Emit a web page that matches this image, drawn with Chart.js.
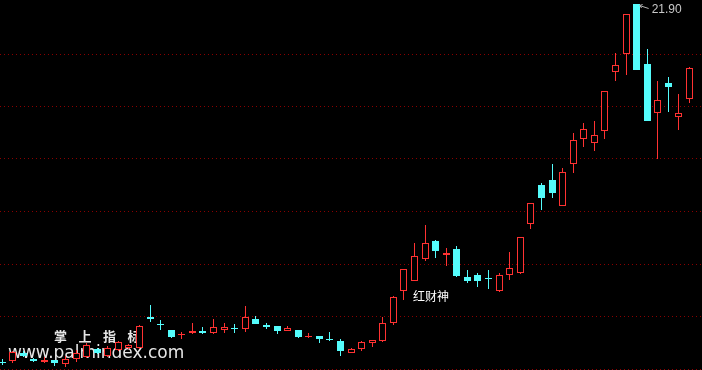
<!DOCTYPE html>
<html>
<head>
<meta charset="utf-8">
<title>红财神</title>
<script src="https://cdn.jsdelivr.net/npm/chart.js@4.4.1/dist/chart.umd.min.js"></script>
<style>
  html, body { margin: 0; padding: 0; background: #000; overflow: hidden; }
  #wrap { width: 702px; height: 370px; background: #000; }
</style>
</head>
<body>
<div id="wrap"><canvas id="kline" width="702" height="370"></canvas></div>
<script>
// daily bars, oldest first
var opens = [4.02, 4.05, 4.45, 4.17, 3.99, 4.09, 3.90, 4.15, 4.27, 4.65,
  4.30, 4.60, 4.70, 4.68, 6.24, 5.92, 5.60, 5.33, 5.44, 5.57,
  5.44, 5.60, 5.70, 5.67, 6.15, 5.87, 5.80, 5.57, 5.60, 5.24,
  5.30, 5.15, 5.05, 4.47, 4.65, 4.94, 5.07, 5.94, 7.57, 8.07,
  9.17, 10.05, 9.37, 9.65, 8.25, 8.35, 8.20, 7.57, 8.37, 8.47,
  10.92, 12.85, 13.10, 11.82, 13.89, 15.17, 14.97, 15.57, 18.48, 19.39,
  21.90, 18.90, 16.44, 17.95, 16.24, 17.14];
var highs = [4.15, 4.55, 4.55, 4.20, 4.25, 4.12, 4.30, 4.60, 4.95, 4.72,
  4.80, 5.05, 4.90, 5.85, 6.85, 6.10, 5.62, 5.52, 5.94, 5.75,
  6.15, 5.94, 5.89, 6.80, 6.30, 5.97, 5.82, 5.80, 5.62, 5.45,
  5.32, 5.52, 5.15, 4.70, 5.07, 5.12, 6.27, 7.28, 8.66, 9.97,
  10.87, 10.10, 9.69, 9.80, 8.60, 8.45, 8.60, 8.45, 9.50, 10.25,
  11.95, 12.97, 13.90, 13.70, 15.47, 15.94, 16.05, 17.56, 19.47, 21.42,
  21.90, 19.65, 18.05, 18.25, 17.40, 18.75];
var lows = [3.85, 3.95, 4.25, 4.00, 3.97, 3.80, 3.75, 4.00, 4.22, 4.40,
  4.25, 4.55, 4.65, 4.65, 6.02, 5.60, 5.20, 5.17, 5.40, 5.40,
  5.40, 5.45, 5.47, 5.52, 5.90, 5.65, 5.40, 5.55, 5.22, 5.22,
  4.95, 5.05, 4.32, 4.45, 4.55, 4.77, 5.00, 5.87, 7.10, 8.05,
  9.07, 9.22, 8.82, 8.27, 7.97, 7.77, 7.67, 7.50, 8.12, 8.40,
  10.64, 11.60, 12.22, 11.80, 13.44, 14.77, 14.57, 15.14, 18.07, 18.35,
  18.58, 16.05, 14.17, 16.52, 15.62, 16.97];
var closes = [3.98, 4.49, 4.30, 4.04, 4.10, 3.94, 4.14, 4.44, 4.85, 4.47,
  4.70, 5.00, 4.85, 5.81, 6.15, 5.85, 5.27, 5.38, 5.55, 5.47,
  5.74, 5.74, 5.66, 6.24, 5.92, 5.75, 5.57, 5.70, 5.24, 5.32,
  5.15, 5.12, 4.57, 4.65, 5.00, 5.10, 5.95, 7.24, 8.64, 9.30,
  9.94, 9.57, 9.45, 8.32, 8.07, 8.07, 8.13, 8.35, 8.69, 10.23,
  11.93, 12.22, 12.47, 13.50, 15.09, 15.65, 15.35, 17.54, 18.84, 21.40,
  18.60, 16.07, 17.10, 17.77, 16.45, 18.70];
var gridLevels = [3.65, 6.28, 8.90, 11.53, 14.15, 16.78, 19.40];
var peakLabel = '21.90';
var indicatorName = '红财神';
var brandName = '掌上指标';
var brandSite = 'www.palmindex.com';

var upColor = '#ff3232';
var downColor = '#54fcfc';
var idx = opens.map(function(v, i) { return i; });
var isUp = idx.map(function(i) { return closes[i] >= opens[i]; });
var lineColors = isUp.map(function(u) { return u ? upColor : downColor; });

// keep candle edges on whole pixels so the 1px outlines stay sharp
var snapBars = {
  id: 'snapBars',
  beforeDatasetsDraw: function(chart) {
    chart.data.datasets.forEach(function(ds, d) {
      chart.getDatasetMeta(d).data.forEach(function(el) {
        el.x = Math.floor(el.x) + 0.5;
        var top = Math.round(Math.min(el.y, el.base));
        var bot = Math.round(Math.max(el.y, el.base));
        if (bot - top < 1) bot = top + 1;
        el.y = top;
        el.base = bot;
      });
    });
  }
};

// text drawn on top of the plot (watermark under the candles, labels above)
var overlayText = {
  id: 'overlayText',
  beforeDatasetsDraw: function(chart) {
    var ctx = chart.ctx;
    ctx.save();
    ctx.fillStyle = '#e6e6e6';
    ctx.textBaseline = 'middle';
    ctx.font = 'bold 13px "Noto Sans CJK SC"';
    var chars = brandName.split('');
    chars.forEach(function(ch, k) {
      ctx.fillText(ch, 54 + k * 24.5, 336);
    });
    ctx.font = '17px "DejaVu Sans"';
    ctx.textBaseline = 'alphabetic';
    ctx.fillText(brandSite, 8, 358);
    ctx.restore();
  },
  afterDatasetsDraw: function(chart) {
    var ctx = chart.ctx;
    var xs = chart.scales.x, ys = chart.scales.y;
    ctx.save();
    ctx.fillStyle = '#ffffff';
    ctx.font = '12px "Noto Sans CJK SC"';
    ctx.textBaseline = 'middle';
    ctx.fillText(indicatorName, 413, 296);

    var top = highs.indexOf(Math.max.apply(null, highs));
    var px = xs.getPixelForValue(top);
    var py = ys.getPixelForValue(highs[top]);
    ctx.strokeStyle = '#b4b4b4';
    ctx.lineWidth = 1;
    ctx.beginPath();
    ctx.moveTo(px + 3, py + 1.5);
    ctx.lineTo(px + 12, py + 4.5);
    ctx.moveTo(px + 3, py + 1.5);
    ctx.lineTo(px + 6, py + 0.5);
    ctx.moveTo(px + 3, py + 1.5);
    ctx.lineTo(px + 5, py + 4);
    ctx.stroke();
    ctx.fillStyle = '#c8c8c8';
    ctx.font = '12px "Liberation Sans"';
    ctx.fillText(peakLabel, px + 15, py + 6);
    ctx.restore();
  }
};

new Chart(document.getElementById('kline'), {
  type: 'bar',
  data: {
    datasets: [{
      label: 'body',
      data: idx.map(function(i) { return {x: i, y: [opens[i], closes[i]]}; }),
      backgroundColor: isUp.map(function(u) { return u ? '#000000' : downColor; }),
      borderColor: lineColors,
      borderWidth: 1,
      borderSkipped: false,
      inflateAmount: 0,
      barThickness: 7,
      grouped: false,
      order: 1
    }, {
      label: 'wick',
      data: idx.map(function(i) { return {x: i, y: [lows[i], highs[i]]}; }),
      backgroundColor: lineColors,
      borderWidth: 0,
      inflateAmount: 0,
      barThickness: 1,
      grouped: false,
      order: 2
    }]
  },
  options: {
    responsive: false,
    animation: false,
    layout: { padding: 0 },
    plugins: {
      legend: { display: false },
      tooltip: { enabled: false }
    },
    scales: {
      x: {
        type: 'linear',
        display: false,
        offset: false,
        min: -0.19,
        max: 66.18
      },
      y: {
        min: 3.60,
        max: 22.10,
        ticks: { display: false },
        grid: { color: '#8a0000', drawTicks: false },
        border: { display: false, dash: [1, 3] },
        afterBuildTicks: function(scale) {
          scale.ticks = gridLevels.map(function(v) { return {value: v}; });
        }
      }
    }
  },
  plugins: [snapBars, overlayText]
});
</script>
</body>
</html>
